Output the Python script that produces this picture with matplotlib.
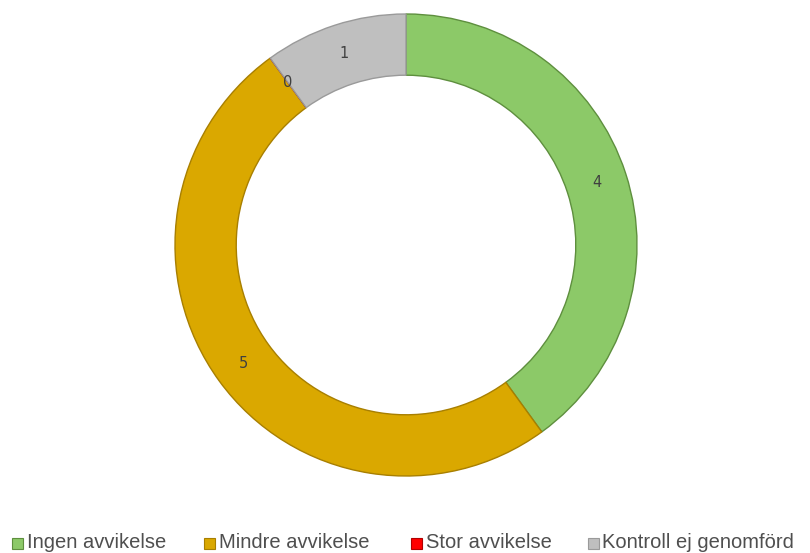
import matplotlib
matplotlib.use("Agg")
import matplotlib.pyplot as plt
from matplotlib.patches import Rectangle

categories = ["Ingen avvikelse", "Mindre avvikelse", "Stor avvikelse", "Kontroll ej genomförd"]
values = [4, 5, 0, 1]
colors = ["#8CC968", "#DAA800", "#FF0000", "#BFBFBF"]
edges = ["#5E8F3E", "#A87F00", "#B00000", "#9A9A9A"]

total = sum(values)
W, H = 810, 553

fig = plt.figure(figsize=(8.10, 5.53), dpi=100)
ax = fig.add_axes([175/W, (H-476)/H, 462/W, 462/H])

wedges, texts, autotexts = ax.pie(
    values, colors=colors, startangle=90, counterclock=False,
    radius=1, wedgeprops=dict(width=0.265, linewidth=1.0),
    autopct=lambda p: "%d" % round(p * total / 100.0), pctdistance=0.87,
    textprops=dict(fontsize=10.5, color="#404040"))
for w, ec in zip(wedges, edges):
    w.set_edgecolor(ec)
ax.set_xlim(-1, 1)
ax.set_ylim(-1, 1)
ax.set_aspect("equal")
ax.axis("off")

# legend drawn by hand so the entries land where the reference has them
marker_x = [12, 204, 411, 588]
text_x = [27, 219, 426, 602]
for mx, tx, lab, c, e in zip(marker_x, text_x, categories, colors, edges):
    fig.add_artist(Rectangle((mx/W, (H-549)/H), 11/W, 11/H, facecolor=c,
                             edgecolor=e, linewidth=0.8, transform=fig.transFigure))
    fig.text(tx/W, (H-543)/H, lab, ha="left", va="center", color="#4F4F4F",
             fontsize=14.5, family=["Liberation Sans", "DejaVu Sans"])

fig.savefig("out.png", dpi=100)
